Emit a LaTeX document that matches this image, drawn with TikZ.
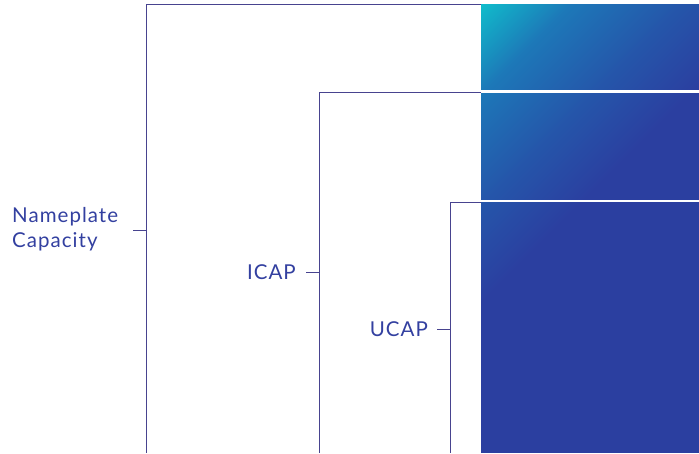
\documentclass[tikz,border=0pt]{standalone}
\usepackage{fontspec}
\setmainfont{Lato}[LetterSpace=5]
\definecolor{cA}{HTML}{10BCCB}
\definecolor{cB}{HTML}{1D78B8}
\definecolor{cC}{HTML}{2556AA}
\definecolor{cD}{HTML}{2B3FA0}
\definecolor{linec}{HTML}{47438F}
\definecolor{textc}{HTML}{3340A0}
\tikzset{
  bracket/.style={draw=linec, line width=0.9pt},
  label/.style={text=textc, font=\fontsize{20.5}{25}\selectfont, inner sep=0pt},
}
\begin{document}
\begin{tikzpicture}[x=1pt,y=-1pt]
\useasboundingbox (0,0) rectangle (699,453);
% gradient block
\begin{scope}
\clip (481,4) rectangle (699,453);
\fill[cD] (481,4) rectangle (699,453);
\foreach \s in {0,2,...,88}{
  \pgfmathtruncatemacro\p{100*\s/90}
  \fill[cB!\p!cA] ({481+\s},4) -- ({481+\s+3},4) -- (481,{4+\s+3}) -- (481,{4+\s}) -- cycle;
}
\foreach \s in {90,92,...,198}{
  \pgfmathtruncatemacro\p{100*(\s-90)/110}
  \fill[cC!\p!cB] ({481+\s},4) -- ({481+\s+3},4) -- (481,{4+\s+3}) -- (481,{4+\s}) -- cycle;
}
\foreach \s in {200,202,...,300}{
  \pgfmathtruncatemacro\p{100*(\s-200)/100}
  \fill[cD!\p!cC] ({481+\s},4) -- ({481+\s+3},4) -- (481,{4+\s+3}) -- (481,{4+\s}) -- cycle;
}
\end{scope}
\fill[white] (481,90) rectangle (699,92.6);
\fill[white] (481,199.6) rectangle (699,202.2);
% brackets
\coordinate (ntop) at (481,4);
\coordinate (nbot) at (146,453);
\coordinate (itop) at (481,92);
\coordinate (ibot) at (319,453);
\coordinate (utop) at (481,202);
\coordinate (ubot) at (450,453);
\draw[bracket] (ntop) -| (nbot);
\draw[bracket] (itop) -| (ibot);
\draw[bracket] (utop) -| (ubot);
% labels
\node[label, anchor=west, align=left] (np) at (12,229.5) {Nameplate\\Capacity};
\node[label, anchor=east] (icap) at (296,272) {ICAP};
\node[label, anchor=east] (ucap) at (428,329) {UCAP};
\coordinate (nv) at (146,230);
\coordinate (iv) at (319,272);
\coordinate (uv) at (450,329);
\draw[bracket] ([xshift=-13pt]nv) -- (nv);
\draw[bracket] ([xshift=-13pt]iv) -- (iv);
\draw[bracket] ([xshift=-13pt]uv) -- (uv);
\end{tikzpicture}
\end{document}
